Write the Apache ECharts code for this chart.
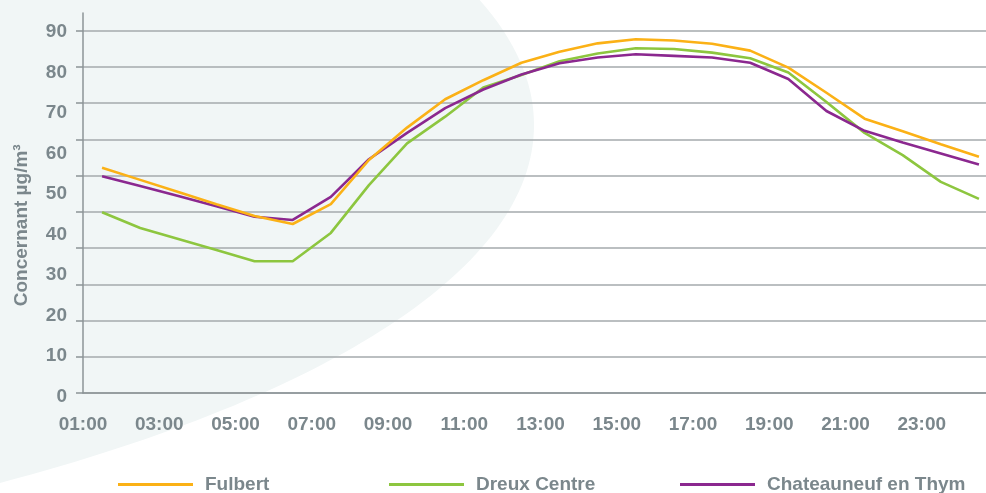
<!DOCTYPE html>
<html><head><meta charset="utf-8">
<script src="https://cdn.jsdelivr.net/npm/echarts@6/dist/echarts.min.js"></script>
<style>html,body{margin:0;padding:0;background:#ffffff}#c{width:986px;height:493px}</style>
</head><body><div id="c"></div>
<script>
// ---- data ----
const hours = ['01:00','02:00','03:00','04:00','05:00','06:00','07:00','08:00','09:00','10:00','11:00','12:00',
               '13:00','14:00','15:00','16:00','17:00','18:00','19:00','20:00','21:00','22:00','23:00','24:00'];
const xTickLabels = ['01:00','03:00','05:00','07:00','09:00','11:00','13:00','15:00','17:00','19:00','21:00','23:00'];
const yTickLabels = [0,10,20,30,40,50,60,70,80,90];
const gridLineValues = [0,10,20,30,40,50,60,70,80,90,100];
const seriesNames = ['Fulbert','Dreux Centre','Chateauneuf en Thym'];
const fulbert = [56.5,53.5,50.5,47.5,44.6,42.6,47.5,58.4,66.4,73.4,78.1,82.4,85.1,87.2,88.2,87.9,87.1,85.4,81.2,75.0,68.6,65.5,62.3,59.2];
const dreuxCentre = [45.5,41.6,38.9,36.2,33.4,33.4,40.4,52.2,62.5,69.1,76.3,79.4,82.8,84.7,86.0,85.8,84.9,83.5,80.0,72.7,65.1,59.6,53.0,48.8];
const chateauneuf = [54.4,52.0,49.5,47.0,44.4,43.6,49.3,58.6,65.1,71.2,75.8,79.5,82.3,83.7,84.5,84.1,83.7,82.4,78.4,70.5,65.6,62.7,60.0,57.3];
const colors = ['#fbb116','#8dc63f','#8b288f'];

// ---- styles ----
const FONT = "'Liberation Sans', Arial, sans-serif";
const TXT = '#7b878c';
const GRIDC = '#a5aaac';
const AXISC = '#8c9497';

const chart = echarts.init(document.getElementById('c'), null, {renderer:'canvas'});
const legendLefts = [118, 389, 680];
const GL = 83, GW = 915;
chart.setOption({
  animation: false,
  backgroundColor: '#ffffff',
  graphic: [{
    type: 'ellipse', z: -10, silent: true,
    shape: {cx: -1000, cy: 125, rx: 1534, ry: 472},
    style: {fill: '#f1f6f6'}
  }],
  grid: [
    {left: GL, width: GW, top: 30.5, bottom: 100, outerBoundsMode: 'none', containLabel: false},
    {left: GL, width: GW, top: 32, bottom: 96.4, outerBoundsMode: 'none', containLabel: false},
    {left: GL, width: GW, top: 13, bottom: 100, outerBoundsMode: 'none', containLabel: false}
  ],
  xAxis: [
    {gridIndex: 0, type: 'category', data: xTickLabels.concat(['']), boundaryGap: false,
     axisLine: {show: true, lineStyle: {color: AXISC, width: 1.5}},
     axisTick: {show: false},
     axisLabel: {interval: 0, color: TXT, fontFamily: FONT, fontWeight: 'bold', fontSize: 19, margin: 22},
     splitLine: {show: false}},
    {gridIndex: 1, type: 'category', data: hours, boundaryGap: true, show: false},
    {gridIndex: 2, type: 'category', data: hours, show: false}
  ],
  yAxis: [
    {gridIndex: 0, type: 'value', min: gridLineValues[0], max: gridLineValues[gridLineValues.length-1],
     interval: gridLineValues[1]-gridLineValues[0],
     axisLine: {show: false},
     axisTick: {show: true, length: 7, lineStyle: {color: AXISC, width: 1.5}},
     axisLabel: {show: false},
     splitLine: {show: true, lineStyle: {color: GRIDC, width: 1.5}}},
    {gridIndex: 1, type: 'value', min: yTickLabels[0], max: yTickLabels[yTickLabels.length-1],
     interval: yTickLabels[1]-yTickLabels[0],
     axisLine: {show: false}, axisTick: {show: false}, splitLine: {show: false},
     axisLabel: {color: TXT, fontFamily: FONT, fontWeight: 'bold', fontSize: 19, margin: 16},
     name: 'Concernant µg/m³', nameLocation: 'middle', nameGap: 52,
     nameTextStyle: {color: TXT, fontFamily: FONT, fontWeight: 'bold', fontSize: 19, padding: [0, 22, 0, 0]}},
    {gridIndex: 2, type: 'value', min: 0, max: 1,
     axisLine: {show: true, onZero: false, lineStyle: {color: AXISC, width: 1.5}},
     axisTick: {show: false}, axisLabel: {show: false}, splitLine: {show: false}}
  ],
  legend: seriesNames.map((n, i) => ({
    data: [n], left: legendLefts[i], top: 475, padding: 0, icon: 'rect', itemWidth: 75, itemHeight: 3,
    textStyle: {color: TXT, fontFamily: FONT, fontWeight: 'bold', fontSize: 19, padding: [0, 0, 0, 7]}
  })),
  series: [fulbert, dreuxCentre, chateauneuf].map((d, i) => ({
    name: seriesNames[i], type: 'line', xAxisIndex: 1, yAxisIndex: 1, data: d,
    showSymbol: false, symbol: 'none', color: colors[i],
    lineStyle: {color: colors[i], width: 2.6}, z: 5 + (i === 0 ? 2 : i === 2 ? 1 : 0)
  }))
});
</script></body></html>
